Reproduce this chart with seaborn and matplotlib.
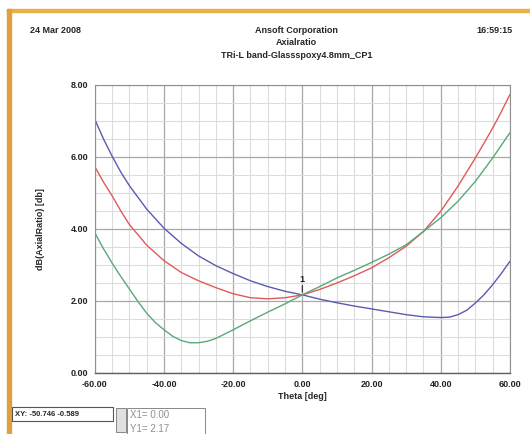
import numpy as np
import pandas as pd
import matplotlib
matplotlib.use("Agg")
import matplotlib.pyplot as plt
import seaborn as sns
from matplotlib.ticker import MultipleLocator
from matplotlib.patches import Rectangle

# data (Theta in deg, axial ratio in dB)
theta_blue = [-60, -57.5, -55, -52.5, -50, -45, -40, -35, -30, -25, -20, -15, -10, -5, 0,
              5, 10, 15, 20, 25, 30, 35, 40, 42.5, 45, 47.5, 50, 52.5, 55, 57.5, 60]
ar_blue = [7.04, 6.50, 6.02, 5.58, 5.20, 4.55, 4.02, 3.60, 3.25, 2.98, 2.76, 2.56, 2.40, 2.27, 2.17,
           2.05, 1.95, 1.86, 1.78, 1.70, 1.62, 1.56, 1.54, 1.55, 1.62, 1.74, 1.94, 2.17, 2.45, 2.76, 3.10]
theta_red = [-60, -57.5, -55, -52.5, -50, -45, -40, -35, -30, -25, -20, -15, -10, -5, 0,
             5, 10, 15, 20, 25, 30, 35, 40, 45, 50, 52.5, 55, 57.5, 60]
ar_red = [5.73, 5.30, 4.92, 4.50, 4.12, 3.55, 3.12, 2.79, 2.56, 2.37, 2.20, 2.09, 2.06, 2.09, 2.17,
          2.32, 2.50, 2.70, 2.92, 3.20, 3.52, 3.93, 4.49, 5.19, 5.97, 6.38, 6.80, 7.25, 7.73]
theta_green = [-60, -57.5, -55, -52.5, -50, -47.5, -45, -42.5, -40, -37.5, -35, -32.5, -30,
               -27.5, -25, -20, -15, -10, -5, 0, 5, 10, 15, 20, 25, 30, 35, 40, 45, 50, 55, 60]
ar_green = [3.89, 3.45, 3.05, 2.68, 2.33, 1.98, 1.66, 1.40, 1.20, 1.02, 0.90, 0.84, 0.84,
            0.88, 0.96, 1.20, 1.45, 1.69, 1.92, 2.17, 2.40, 2.64, 2.85, 3.07, 3.30, 3.56, 3.93,
            4.31, 4.77, 5.32, 5.97, 6.67]
marker_x, marker_y = 0.0, 2.17

df = pd.concat([
    pd.DataFrame({"theta": theta_blue, "ar": ar_blue, "trace": "blue"}),
    pd.DataFrame({"theta": theta_red, "ar": ar_red, "trace": "red"}),
    pd.DataFrame({"theta": theta_green, "ar": ar_green, "trace": "green"}),
])
palette = {"blue": "#5a5ab4", "red": "#e05a5a", "green": "#5aa878"}

sns.set_style("white")
plt.rcParams["font.family"] = ["Liberation Sans", "DejaVu Sans"]

fig = plt.figure(figsize=(5.3, 4.34), dpi=100)
ax = fig.add_axes([0.179, 0.1406, 0.783, 0.6636])

sns.lineplot(data=df, x="theta", y="ar", hue="trace", palette=palette,
             linewidth=1.0, legend=False, ax=ax)

xticks = np.arange(-60, 61, 20)
yticks = np.arange(0, 9, 2)
ax.set_xlim(-60, 60)
ax.set_ylim(0, 8)
ax.set_xticks(xticks)
ax.set_xticklabels([f"{v:.2f}" for v in xticks])
ax.set_yticks(yticks)
ax.set_yticklabels([f"{v:.2f}" for v in yticks])
ax.xaxis.set_minor_locator(MultipleLocator(5))
ax.yaxis.set_minor_locator(MultipleLocator(0.5))
ax.grid(which="major", color="#a8a8a8", linewidth=0.9)
ax.grid(which="minor", color="#dcdcdc", linewidth=0.8)
ax.set_axisbelow(True)
ax.tick_params(which="major", length=4, width=0.8, color="#808080",
               labelsize=6.5, pad=1)
ax.tick_params(which="minor", length=2, width=0.6, color="#a0a0a0")
for lab in ax.get_xticklabels() + ax.get_yticklabels():
    lab.set_fontweight("bold")
    lab.set_color("#222222")
for side in ["top", "right", "left"]:
    ax.spines[side].set_color("#909090")
    ax.spines[side].set_linewidth(0.8)
ax.spines["bottom"].set_color("#606060")
ax.spines["bottom"].set_linewidth(1.0)

ax.set_xlabel("Theta [deg]", fontsize=6.5, fontweight="bold", labelpad=2)
ax.set_ylabel("dB(AxialRatio) [db]", fontsize=6.5, fontweight="bold", labelpad=18)

# marker 1 at the crossing point
ax.annotate("", xy=(marker_x, marker_y), xytext=(marker_x, marker_y + 0.33),
            arrowprops=dict(arrowstyle="-", color="#333333", lw=0.9))
ax.text(marker_x, marker_y + 0.3, "1", fontsize=6.5, fontweight="bold",
        ha="center", va="bottom", color="#222222")

# header texts
fig.text(0.057, 0.930, "24 Mar 2008", fontsize=6.5, fontweight="bold", ha="left", va="center")
fig.text(0.967, 0.930, "16:59:15", fontsize=6.5, fontweight="bold", ha="right", va="center")
fig.text(0.56, 0.930, "Ansoft Corporation", fontsize=6.5, fontweight="bold", ha="center", va="center")
fig.text(0.56, 0.902, "Axialratio", fontsize=6.5, fontweight="bold", ha="center", va="center")
fig.text(0.56, 0.873, "TRi-L band-Glassspoxy4.8mm_CP1", fontsize=6.5, fontweight="bold",
         ha="center", va="center")

# window frame
fig.patches.append(Rectangle((0.013, 1 - 12 / 434), 0.987, 3 / 434, transform=fig.transFigure,
                             color="#e8b048", zorder=5))
fig.patches.append(Rectangle((0.013, 0.0), 4 / 530, 1 - 9 / 434, transform=fig.transFigure,
                             color="#e0a040", zorder=5))

# readout widgets at the bottom
fig.patches.append(Rectangle((12 / 530, 1 - 421 / 434), 101 / 530, 14 / 434,
                             transform=fig.transFigure, fill=False, edgecolor="#555555",
                             linewidth=0.8, zorder=5))
fig.text(15 / 530, 1 - 414 / 434, "XY: -50.746 -0.589", fontsize=5.5, fontweight="bold",
         ha="left", va="center")
fig.patches.append(Rectangle((116 / 530, 1 - 432 / 434), 10 / 530, 24 / 434,
                             transform=fig.transFigure, facecolor="#e0e0e0",
                             edgecolor="#777777", linewidth=0.6, zorder=5))
fig.patches.append(Rectangle((127 / 530, 1 - 440 / 434), 78 / 530, 32 / 434,
                             transform=fig.transFigure, fill=False, edgecolor="#888888",
                             linewidth=0.7, zorder=5))
fig.text(130 / 530, 1 - 415 / 434, "X1= 0.00", fontsize=7, color="#909090",
         ha="left", va="center")
fig.text(130 / 530, 1 - 429 / 434, "Y1= 2.17", fontsize=7, color="#909090",
         ha="left", va="center")

fig.savefig("out.png", dpi=100)
